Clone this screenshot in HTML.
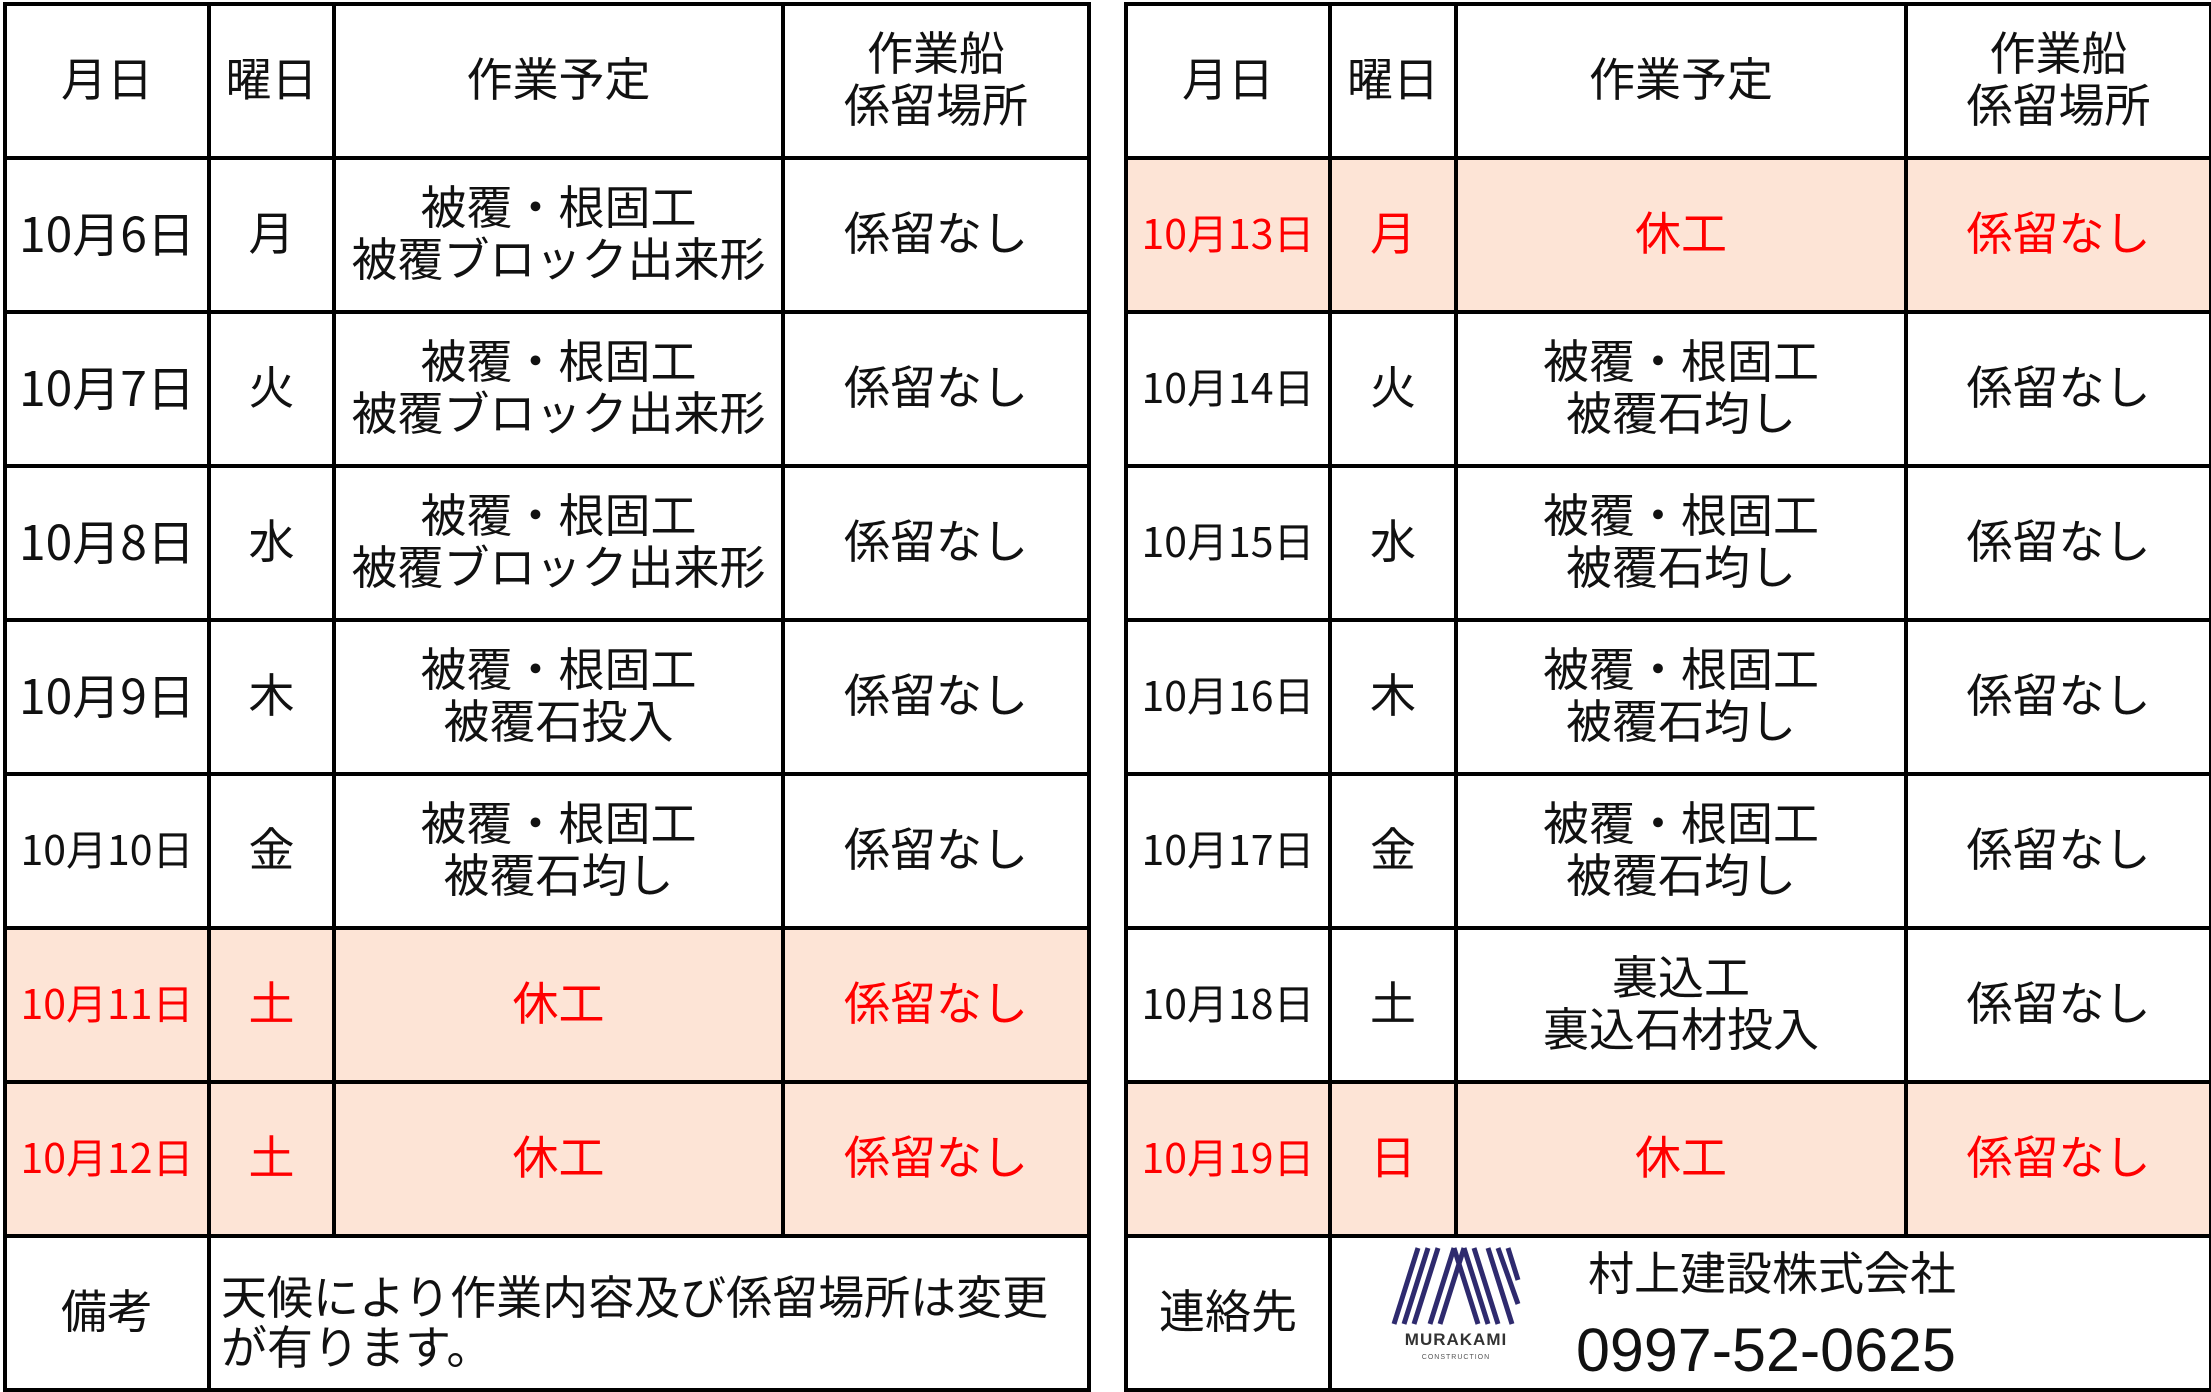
<!DOCTYPE html>
<html><head><meta charset="utf-8"><style>
body{margin:0;width:2211px;height:1391px;background:#fff;overflow:hidden;font-family:"Noto Sans CJK JP","Liberation Sans",sans-serif;}
table{position:absolute;top:2px;border-collapse:collapse;table-layout:fixed;}
td{border:4px solid #000;text-align:center;vertical-align:middle;font-size:46px;line-height:52px;color:#111;padding:0 0 8px 0;font-weight:400;}
tr{height:154px;}
.p td{background:#fde4d6;color:#f00;}
td.d{font-size:48px;}
td.d5{font-size:41px;}
td.l{text-align:left;padding:14px 0 0 10px;line-height:50px;}
</style></head><body>
<table style="left:3px;width:1084px">
<colgroup><col style="width:204px"><col style="width:125px"><col style="width:449px"><col style="width:306px"></colgroup>
<tr><td>月日</td><td>曜日</td><td>作業予定</td><td>作業船<br>係留場所</td></tr>
<tr><td class="d">10月6日</td><td>月</td><td>被覆・根固工<br>被覆ブロック出来形</td><td>係留なし</td></tr>
<tr><td class="d">10月7日</td><td>火</td><td>被覆・根固工<br>被覆ブロック出来形</td><td>係留なし</td></tr>
<tr><td class="d">10月8日</td><td>水</td><td>被覆・根固工<br>被覆ブロック出来形</td><td>係留なし</td></tr>
<tr><td class="d">10月9日</td><td>木</td><td>被覆・根固工<br>被覆石投入</td><td>係留なし</td></tr>
<tr><td class="d5">10月10日</td><td>金</td><td>被覆・根固工<br>被覆石均し</td><td>係留なし</td></tr>
<tr class="p"><td class="d5">10月11日</td><td>土</td><td>休工</td><td>係留なし</td></tr>
<tr class="p"><td class="d5">10月12日</td><td>土</td><td>休工</td><td>係留なし</td></tr>
<tr><td>備考</td><td colspan="3" class="l">天候により作業内容及び係留場所は変更<br>が有ります。</td></tr>
</table>
<table style="left:1124px;width:1085px">
<colgroup><col style="width:204px"><col style="width:126px"><col style="width:450px"><col style="width:305px"></colgroup>
<tr><td>月日</td><td>曜日</td><td>作業予定</td><td>作業船<br>係留場所</td></tr>
<tr class="p"><td class="d5">10月13日</td><td>月</td><td>休工</td><td>係留なし</td></tr>
<tr><td class="d5">10月14日</td><td>火</td><td>被覆・根固工<br>被覆石均し</td><td>係留なし</td></tr>
<tr><td class="d5">10月15日</td><td>水</td><td>被覆・根固工<br>被覆石均し</td><td>係留なし</td></tr>
<tr><td class="d5">10月16日</td><td>木</td><td>被覆・根固工<br>被覆石均し</td><td>係留なし</td></tr>
<tr><td class="d5">10月17日</td><td>金</td><td>被覆・根固工<br>被覆石均し</td><td>係留なし</td></tr>
<tr><td class="d5">10月18日</td><td>土</td><td>裏込工<br>裏込石材投入</td><td>係留なし</td></tr>
<tr class="p"><td class="d5">10月19日</td><td>日</td><td>休工</td><td>係留なし</td></tr>
<tr><td>連絡先</td><td colspan="3"></td></tr>
</table>
<svg style="position:absolute;left:1390px;top:1244px" width="132" height="120" viewBox="0 0 132 120">
<g stroke="#2e2a6e" stroke-width="5" fill="none">
<path d="M4 80 L28 4 M14 80 L38 4 M24 80 L48 4"/>
<path d="M40 80 L64 4 M50 80 L74 4"/>
<path d="M74 4 L98 80 M84 4 L108 80 M64 4 L88 80"/>
<path d="M98 4 L122 80 M108 4 L128 60 M118 4 L128 36"/>
</g>
<text x="66" y="101" font-family="Liberation Sans,sans-serif" font-size="17" font-weight="bold" fill="#333" text-anchor="middle" letter-spacing="1">MURAKAMI</text>
<text x="66" y="115" font-family="Liberation Sans,sans-serif" font-size="7" fill="#555" text-anchor="middle" letter-spacing="1">CONSTRUCTION</text>
</svg>
<div style="position:absolute;left:1588px;top:1245px;font-size:46px;line-height:52px;color:#111">村上建設株式会社</div>
<div style="position:absolute;left:1576px;top:1317px;font-family:'Liberation Sans',sans-serif;font-size:61px;line-height:66px;color:#111">0997-52-0625</div>
</body></html>
